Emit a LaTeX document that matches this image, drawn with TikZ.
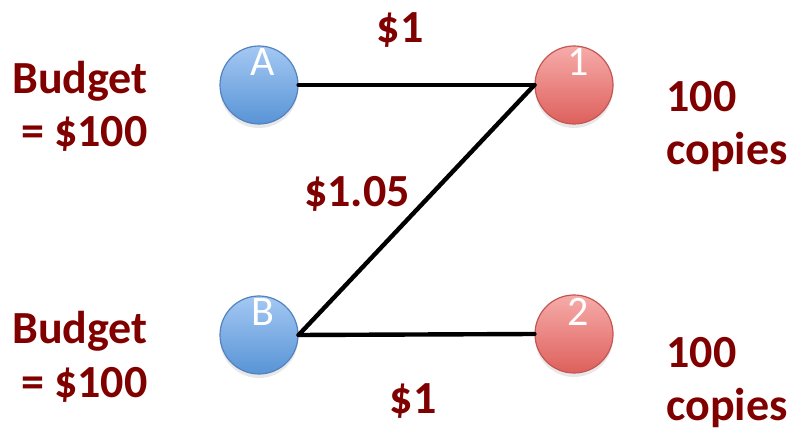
\documentclass[tikz,border=0pt]{standalone}
\usepackage{fontspec}
\setmainfont{Carlito}
\usetikzlibrary{shadows}
\definecolor{pricered}{RGB}{128,0,0}
\definecolor{buyertop}{RGB}{164,200,243}
\definecolor{buyerbot}{RGB}{88,148,214}
\definecolor{buyerline}{RGB}{84,130,190}
\definecolor{itemtop}{RGB}{246,172,170}
\definecolor{itembot}{RGB}{222,96,92}
\definecolor{itemline}{RGB}{196,86,82}
\begin{document}
\begin{tikzpicture}[x=0.5pt,y=0.5pt,line cap=round,
  buyer/.style={circle,minimum size=39pt,inner sep=0pt,draw=buyerline,line width=0.6pt,
    top color=buyertop,bottom color=buyerbot,
    drop shadow={opacity=0.18,shadow xshift=0pt,shadow yshift=-2pt}},
  item/.style={circle,minimum size=39pt,inner sep=0pt,draw=itemline,line width=0.6pt,
    top color=itemtop,bottom color=itembot,
    drop shadow={opacity=0.18,shadow xshift=0pt,shadow yshift=-2pt}},
  lettr/.style={text=white,inner sep=0pt,anchor=north,xshift=2pt,yshift=-1.5pt,
    font=\fontsize{21}{25}\selectfont},
  price/.style={text=pricered,inner sep=0pt,anchor=base,
    font=\fontsize{23}{27}\bfseries\selectfont},
  note/.style={text=pricered,inner sep=0pt,
    font=\fontsize{23}{26.5}\bfseries\selectfont},
  link/.style={line width=2.2pt,black}]
  \useasboundingbox (0,0) rectangle (795,438);
  % buyers and items
  \node[buyer,label={[lettr]north:A}] (A) at (259,353) {};
  \node[buyer,label={[lettr]north:B}] (B) at (259,103) {};
  \node[item,label={[lettr]north:1}] (one) at (574,353) {};
  \node[item,label={[lettr]north:2}] (two) at (574,104) {};
  % edges
  \draw[link] (A.east) -- (one.west);
  \draw[link] (B.east) -- (one.west);
  \draw[link] (B.east) -- (two.west);
  % prices
  \node[price] (pA) at (400,395) {\$1};
  \node[price] (pB) at (357,231) {\$1.05};
  \node[price] (pC) at (413,25) {\$1};
  % budgets and supply
  \node[note,align=right,anchor=base east] (budA) at (148,291) {Budget\\= \$100};
  \node[note,align=right,anchor=base east] (budB) at (148,41) {Budget\\= \$100};
  \node[note,align=left,anchor=base west] (supA) at (666,273) {100\\copies};
  \node[note,align=left,anchor=base west] (supB) at (666,18) {100\\copies};
\end{tikzpicture}
\end{document}
